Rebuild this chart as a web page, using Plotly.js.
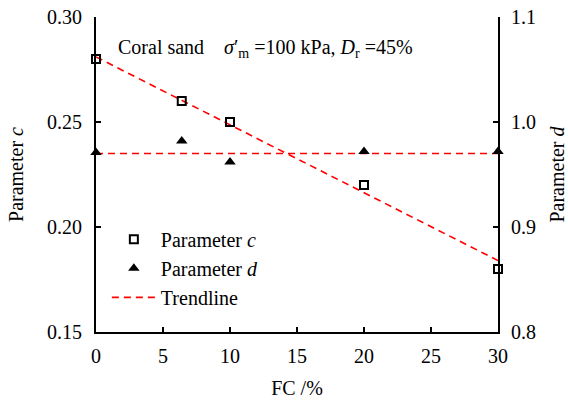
<!DOCTYPE html>
<html><head><meta charset="utf-8">
<script src="https://cdn.plot.ly/plotly-3.0.1.min.js"></script>
<style>body{margin:0;background:#fff}#chart{width:568px;height:403px}</style>
</head><body><div id="chart"></div>
<script>
const fcValues = [0, 6.4, 10, 20, 30];
const paramC = [0.28, 0.26, 0.25, 0.22, 0.18];
const paramD = [0.971, 0.982, 0.962, 0.972, 0.972];
const trendX = [0, 30];
const trendC = [0.281, 0.184];
const trendD = [0.970, 0.970];
const xTicks = [0, 5, 10, 15, 20, 25, 30];

const font = {family: '"Liberation Serif", "Times New Roman", Times, serif', size: 20, color: '#000'};
const red = '#ff0000';

const traces = [
  {x: trendX, y: trendC, mode: 'lines', line: {color: red, width: 1.6, dash: '7px,5px'}, showlegend: false, cliponaxis: false},
  {x: trendX, y: trendD, yaxis: 'y2', mode: 'lines', line: {color: red, width: 1.6, dash: '7px,5px'}, showlegend: false, cliponaxis: false},
  {x: fcValues, y: paramC, mode: 'markers', name: 'Parameter <i>c</i>', cliponaxis: false,
   marker: {symbol: 'square-open', size: 8, color: '#000', line: {width: 2, color: '#000'}}},
  {x: fcValues, y: paramD, yaxis: 'y2', mode: 'markers', name: 'Parameter <i>d</i>', cliponaxis: false,
   marker: {symbol: 'triangle-up', size: 10, color: '#000'}},
  {x: [null], y: [null], mode: 'lines', name: 'Trendline', line: {color: red, width: 1.6, dash: '7px,5px'}}
];

const layout = {
  width: 568, height: 403,
  margin: {l: 96, r: 70, t: 17, b: 71},
  paper_bgcolor: '#fff', plot_bgcolor: '#fff',
  font: font,
  showlegend: true,
  legend: {x: 0.027, y: 0.356, xanchor: 'left', yanchor: 'top', bgcolor: 'rgba(0,0,0,0)', font: font, itemwidth: 44, tracegroupgap: 0},
  xaxis: {
    range: [0, 30], tickvals: xTicks, ticks: 'inside', ticklen: 5, tickwidth: 1.5, tickcolor: '#000',
    showline: true, linecolor: '#000', linewidth: 2, showgrid: false, zeroline: false,
    ticklabelstandoff: 5, layer: 'below traces',
    title: {text: 'FC /%', font: font, standoff: 15}
  },
  yaxis: {
    range: [0.15, 0.30], dtick: 0.05, tick0: 0.15, tickformat: '.2f', ticks: 'inside', ticklen: 5, tickwidth: 1.5, tickcolor: '#000',
    showline: true, linecolor: '#000', linewidth: 2, showgrid: false, zeroline: false,
    ticklabelstandoff: 8, layer: 'below traces',
    title: {text: 'Parameter <i>c</i>', font: font, standoff: 18}
  },
  yaxis2: {
    overlaying: 'y', side: 'right',
    range: [0.8, 1.1], dtick: 0.1, tick0: 0.8, tickformat: '.1f', ticks: 'inside', ticklen: 5, tickwidth: 1.5, tickcolor: '#000',
    showline: true, linecolor: '#000', linewidth: 2, showgrid: false, zeroline: false,
    ticklabelstandoff: 7, layer: 'below traces',
    title: {text: 'Parameter <i>d</i>', font: font, standoff: 19}
  },
  annotations: [{
    xref: 'paper', yref: 'paper', x: 0.05, y: 0.9, xanchor: 'left', yanchor: 'middle', showarrow: false,
    text: 'Coral sand    <i>σ</i>′<sub>m</sub> =100 kPa, <i>D</i><sub>r</sub> =45%', font: font
  }]
};

Plotly.newPlot('chart', traces, layout, {staticPlot: true});
</script></body></html>
